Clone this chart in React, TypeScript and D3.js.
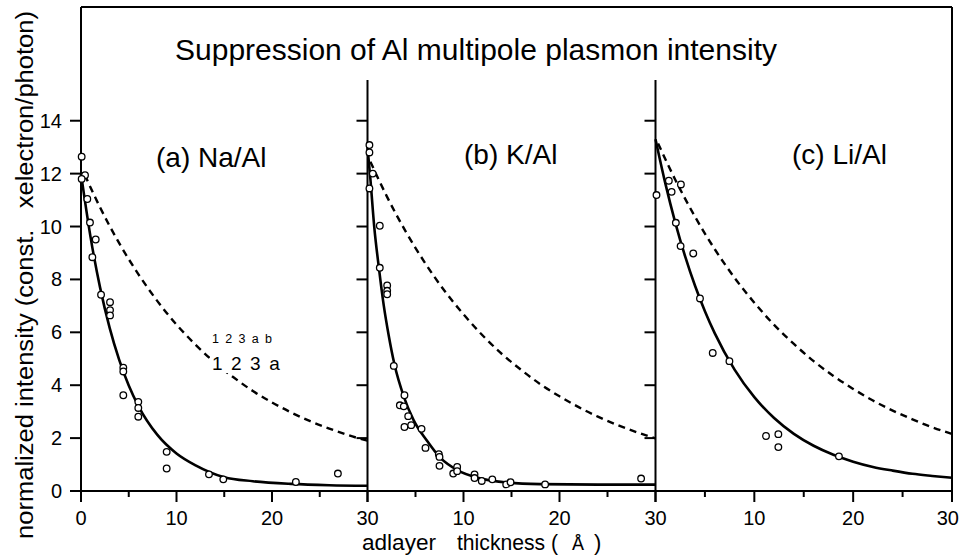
import React from "react";
import * as d3 from "d3";

const TITLE = "Suppression of Al multipole plasmon intensity";
const PANEL_LABELS = ["(a) Na/Al", "(b) K/Al", "(c) Li/Al"];
const Y_TICKS = [0, 2, 4, 6, 8, 10, 12, 14];
const X_MAJOR = [0, 10, 20, 30];
const X_MINOR = [5, 15, 25];
const X_TICK_LABELS = [
  ["0", "10", "20", "30"],
  ["", "10", "20", "30"],
  ["", "10", "20", "30"],
];

// measured points
const naX = [0.07, 0.42, 0.07, 0.66, 0.94, 1.54, 1.19, 2.1, 3.04, 3.04, 3.04, 4.43, 4.43, 4.43, 6.0, 6.0, 6.0, 8.97, 8.97, 13.4, 14.9, 22.5, 26.9];
const naY = [12.64, 11.94, 11.8, 11.04, 10.15, 9.51, 8.84, 7.42, 7.14, 6.84, 6.64, 4.66, 4.52, 3.62, 3.37, 3.14, 2.81, 1.48, 0.85, 0.63, 0.44, 0.34, 0.66];
const kX = [0.2, 0.2, 0.55, 0.2, 1.28, 1.28, 2.05, 2.05, 2.05, 2.74, 3.85, 3.37, 3.78, 4.24, 3.85, 4.55, 5.63, 6.04, 7.43, 7.5, 7.5, 8.93, 9.34, 9.34, 11.15, 11.15, 11.9, 13.0, 14.45, 14.9, 18.5, 28.5];
const kY = [13.08, 12.8, 12.0, 11.44, 10.03, 8.44, 7.77, 7.57, 7.44, 4.73, 3.62, 3.24, 3.2, 2.83, 2.42, 2.49, 2.35, 1.63, 1.39, 1.29, 0.95, 0.66, 0.91, 0.75, 0.63, 0.49, 0.38, 0.44, 0.25, 0.33, 0.25, 0.47];
const liX = [0.1, 1.35, 1.63, 2.57, 2.06, 2.54, 3.82, 4.5, 5.79, 7.48, 11.18, 12.43, 12.43, 18.56];
const liY = [11.19, 11.73, 11.31, 11.59, 10.14, 9.26, 8.98, 7.28, 5.22, 4.91, 2.08, 2.15, 1.66, 1.31];

// solid (fit) curves
const naSolidX = [0, 1, 2, 3, 4, 5, 6, 8, 10, 12, 15, 18, 22, 26, 30];
const naSolidY = [12.0, 9.6, 7.69, 6.17, 4.96, 3.99, 3.22, 2.12, 1.42, 0.97, 0.52, 0.37, 0.27, 0.22, 0.2];
const kSolidX = [0, 0.3, 0.7, 1.2, 1.7, 2.2, 2.8, 3.8, 4.8, 6.2, 7.6, 9.3, 11.8, 14.5, 18, 24, 30];
const kSolidY = [13.0, 11.8, 10.0, 8.4, 7.0, 5.9, 4.8, 3.55, 2.68, 1.9, 1.25, 0.8, 0.47, 0.32, 0.26, 0.24, 0.24];
const liSolidX = [0, 1, 2, 3, 4, 5, 6, 8, 10, 12, 14, 16, 18, 20, 22, 24, 26, 28, 30];
const liSolidY = [13.3, 11.62, 10.15, 8.87, 7.76, 6.8, 5.96, 4.59, 3.55, 2.76, 2.16, 1.71, 1.37, 1.11, 0.91, 0.77, 0.65, 0.57, 0.5];

// dashed curves
const naDashX = [0.4, 2, 4, 6, 8, 10, 12, 14, 16, 18, 20, 22, 24, 26, 28, 30];
const naDashY = [11.95, 10.72, 9.37, 8.2, 7.18, 6.29, 5.53, 4.86, 4.29, 3.78, 3.35, 2.97, 2.64, 2.36, 2.11, 1.9];
const kDashX = [0.3, 2, 4, 6, 8, 10, 12, 14, 16, 18, 20, 22, 24, 26, 28, 30];
const kDashY = [12.45, 11.15, 9.8, 8.62, 7.58, 6.68, 5.88, 5.18, 4.58, 4.04, 3.58, 3.17, 2.81, 2.5, 2.23, 1.99];
const liDashX = [0.26, 2, 4, 6, 8, 10, 12, 14, 16, 18, 20, 22, 24, 26, 28, 30];
const liDashY = [13.14, 11.77, 10.37, 9.14, 8.06, 7.12, 6.28, 5.56, 4.91, 4.35, 3.86, 3.42, 3.04, 2.71, 2.41, 2.16];

const FONT = "'Liberation Sans', Arial, Helvetica, sans-serif";

const zip = (xs: number[], ys: number[]) => xs.map((x, i) => [x, ys[i]] as [number, number]);

export default function App() {
  const W = 961, H = 557;
  const y = d3.scaleLinear().domain([0, 18.3]).range([491, 7]);
  const xs = [
    d3.scaleLinear().domain([0, 30]).range([81, 367.5]),
    d3.scaleLinear().domain([0, 30]).range([367.5, 655.5]),
    d3.scaleLinear().domain([0, 30]).range([655.5, 952]),
  ];
  const panels = [
    { pts: zip(naX, naY), solid: zip(naSolidX, naSolidY), dash: zip(naDashX, naDashY) },
    { pts: zip(kX, kY), solid: zip(kSolidX, kSolidY), dash: zip(kDashX, kDashY) },
    { pts: zip(liX, liY), solid: zip(liSolidX, liSolidY), dash: zip(liDashX, liDashY) },
  ];
  const labelPos = [[156, 167], [464, 164], [792, 164]];
  const y0 = y(0);

  return (
    <svg width={W} height={H} style={{ position: "absolute", left: 0, top: 0, background: "#fff" }} fontFamily={FONT}>
      <rect x={0} y={0} width={W} height={H} fill="#fff" />
      {/* frame */}
      <line x1={xs[0](0)} x2={xs[2](30)} y1={y(18.3)} y2={y(18.3)} stroke="#000" strokeWidth={2} />
      <line x1={xs[2](30)} x2={xs[2](30)} y1={y(18.3)} y2={y0} stroke="#000" strokeWidth={2} />
      <line x1={xs[0](0)} x2={xs[0](0)} y1={y(18.3)} y2={y0} stroke="#000" strokeWidth={2} />
      <line x1={xs[0](0)} x2={xs[2](30)} y1={y0} y2={y0} stroke="#000" strokeWidth={2} />
      <text x={175} y={60} fontSize={29} textLength={602} lengthAdjust="spacingAndGlyphs">{TITLE}</text>

      {panels.map((p, i) => {
        const x = xs[i];
        const line = d3.line<[number, number]>().x(d => x(d[0])).y(d => y(d[1])).curve(d3.curveMonotoneX);
        return (
          <g key={i}>
            {i > 0 && <line x1={x(0)} x2={x(0)} y1={80} y2={y0} stroke="#000" strokeWidth={2} />}
            {Y_TICKS.map(t => (
              <line key={t} x1={x(0) - 11} x2={x(0)} y1={y(t)} y2={y(t)} stroke="#000" strokeWidth={2} />
            ))}
            {X_MAJOR.map(t => (
              <line key={"M" + t} x1={x(t)} x2={x(t)} y1={y0} y2={y0 + 11} stroke="#000" strokeWidth={2} />
            ))}
            {X_MINOR.map(t => (
              <line key={"m" + t} x1={x(t)} x2={x(t)} y1={y0} y2={y0 + 6} stroke="#000" strokeWidth={2} />
            ))}
            {X_MAJOR.map((t, j) => {
              const last = i === 2 && j === 3;
              return (
                <text key={"l" + t} x={last ? 959 : x(t)} y={525} fontSize={20} textAnchor={last ? "end" : "middle"}>
                  {X_TICK_LABELS[i][j]}
                </text>
              );
            })}
            <path d={line(p.dash) || ""} fill="none" stroke="#000" strokeWidth={2.4} strokeDasharray="7,5" />
            <path d={line(p.solid) || ""} fill="none" stroke="#000" strokeWidth={2.6} />
            {p.pts.map((d, j) => (
              <circle key={j} cx={x(d[0])} cy={y(d[1])} r={3.3} fill="#fff" stroke="#000" strokeWidth={1.3} />
            ))}
            <text x={labelPos[i][0]} y={labelPos[i][1]} fontSize={28}>{PANEL_LABELS[i]}</text>
          </g>
        );
      })}

      {/* y tick labels */}
      {Y_TICKS.map(t => (
        <text key={t} x={62} y={y(t) + 7} fontSize={20} textAnchor="end">{t}</text>
      ))}

      {/* annotations */}
      <text x={212} y={343} fontSize={12.5} letterSpacing={1.4}>1 2 3 a b</text>
      <rect x={210} y={354} width={66} height={19} fill="#fff" />
      <text x={212} y={370} fontSize={19} letterSpacing={1.6}>1 2 3 a</text>

      {/* axis titles */}
      <text transform="translate(33,275) rotate(-90)" fontSize={23} textAnchor="middle" textLength={528}
        lengthAdjust="spacingAndGlyphs" style={{ whiteSpace: "pre" }}>
        {"normalized intensity (const.   xelectron/photon)"}
      </text>
      <text y={550} fontSize={22}>
        <tspan x={362} textLength={74} lengthAdjust="spacingAndGlyphs">adlayer</tspan>
        <tspan x={457} textLength={101} lengthAdjust="spacingAndGlyphs">thickness (</tspan>
        <tspan x={572} fontSize={20} fontFamily="'Liberation Mono', 'DejaVu Sans Mono', monospace">Å</tspan>
        <tspan x={594}>)</tspan>
      </text>
    </svg>
  );
}
